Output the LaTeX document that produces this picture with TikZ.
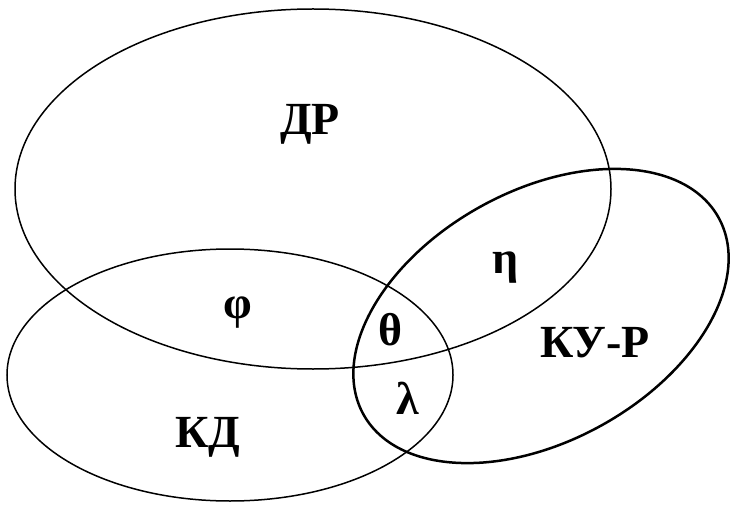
\documentclass[tikz,border=0pt]{standalone}
\usepackage{fontspec}
\setmainfont{Liberation Serif}
\begin{document}
\begin{tikzpicture}[x=1pt,y=1pt,
  thinline/.style={line width=1.5pt},
  thickline/.style={line width=2.5pt},
  lbl/.style={font=\fontsize{46}{50}\selectfont\bfseries, inner sep=0pt}]
\useasboundingbox (0,0) rectangle (730,504);
\draw[thinline] (313,315) ellipse [x radius=298pt, y radius=180pt];
\draw[thinline] (230,129) ellipse [x radius=223pt, y radius=126pt];
\draw[thickline, rotate around={29:(541,188)}] (541,188) ellipse [x radius=203pt, y radius=125pt];
\node[lbl, anchor=base] (dr) at (310,369) {ДР};
\node[lbl, anchor=base] (kur) at (595,147) {КУ-Р};
\node[lbl, anchor=base] (kd) at (208,57) {КД};
\node[lbl] (phi) at (238,191) {φ};
\node[lbl] (theta) at (390,174) {θ};
\node[lbl] (lambda) at (408,106) {λ};
\node[lbl] (eta) at (506,236) {η};
\end{tikzpicture}
\end{document}
